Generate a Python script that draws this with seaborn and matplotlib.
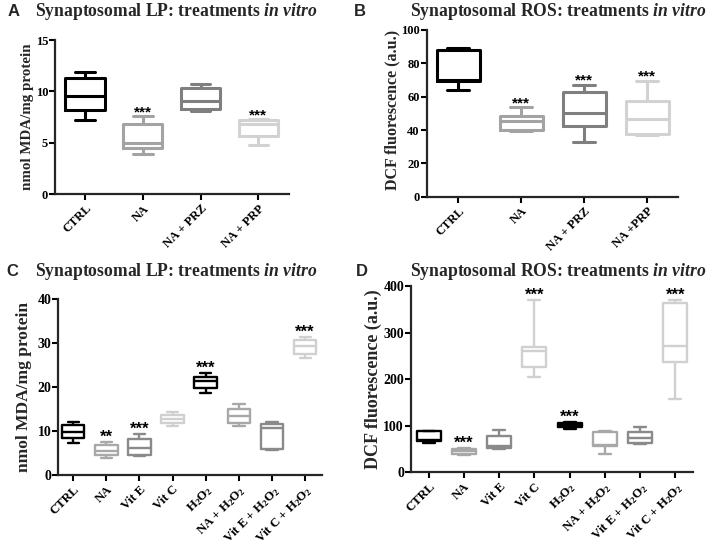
import numpy as np
import pandas as pd
import matplotlib
matplotlib.use("Agg")
import matplotlib.pyplot as plt
import seaborn as sns

sns.set_style("ticks")
plt.rcParams['font.family'] = ['Liberation Serif', 'DejaVu Serif']
plt.rcParams['font.weight'] = 'bold'
plt.rcParams['mathtext.fontset'] = 'custom'
plt.rcParams['mathtext.rm'] = 'Liberation Serif:bold'
plt.rcParams['mathtext.it'] = 'Liberation Serif:bold:italic'
plt.rcParams['mathtext.bf'] = 'Liberation Serif:bold'

# ---------------- data ----------------
# Panel A: Synaptosomal LP (nmol MDA/mg protein)
a_groups = ['CTRL', 'NA', 'NA + PRZ', 'NA + PRP']
a_min = [7.25, 3.95, 8.10, 4.80]
a_q1 = [8.20, 4.50, 8.25, 5.70]
a_med = [9.60, 5.00, 9.05, 6.80]
a_q3 = [11.30, 6.80, 10.30, 7.20]
a_max = [11.90, 7.60, 10.70, 7.35]
a_stars = ['', '***', '', '***']

# Panel B: Synaptosomal ROS (DCF fluorescence)
b_groups = ['CTRL', 'NA', 'NA + PRZ', 'NA +PRP']
b_min = [64.2, 39.2, 33.0, 36.8]
b_q1 = [69.2, 40.0, 42.2, 37.8]
b_med = [69.8, 45.2, 50.4, 46.6]
b_q3 = [88.0, 48.2, 62.8, 57.2]
b_max = [89.2, 53.6, 67.0, 69.6]
b_stars = ['', '***', '***', '***']

# Panel C: Synaptosomal LP, vitamins / H2O2
c_groups = ['CTRL', 'NA', 'Vit E', 'Vit C', 'H$_2$O$_2$', 'NA + H$_2$O$_2$',
            'Vit E + H$_2$O$_2$', 'Vit C + H$_2$O$_2$']
c_min = [7.3, 4.0, 4.4, 11.2, 18.7, 11.2, 5.7, 26.7]
c_q1 = [8.4, 4.6, 4.6, 11.8, 19.8, 11.9, 6.0, 27.6]
c_med = [9.9, 5.6, 6.2, 12.7, 21.4, 13.5, 10.7, 29.4]
c_q3 = [11.4, 6.9, 8.2, 13.8, 22.3, 15.0, 11.6, 30.8]
c_max = [12.1, 7.6, 9.4, 14.4, 23.3, 16.1, 12.0, 31.5]
c_stars = ['', '**', '***', '', '***', '', '', '***']

# Panel D: Synaptosomal ROS, vitamins / H2O2
d_groups = c_groups
d_min = [63, 37, 51, 204, 92, 39, 60, 157]
d_q1 = [68, 40, 52, 227, 97, 56, 62, 237]
d_med = [70, 45, 56, 261, 102, 59, 74, 272]
d_q3 = [88, 49, 79, 270, 106, 86, 86, 364]
d_max = [89, 53, 90, 370, 109, 88, 97, 371]
d_stars = ['', '***', '', '***', '***', '', '', '***']

ab_colors = ['#000000', '#a3a3a3', '#7f7f7f', '#d2d2d2']
cd_colors = ['#000000', '#a8a8a8', '#8a8a8a', '#d0d0d0',
             '#000000', '#a8a8a8', '#8a8a8a', '#d0d0d0']

W, H = 710, 546
fig = plt.figure(figsize=(W / 100, H / 100), dpi=100)


def add_ax(l, r, t, b):
    return fig.add_axes([l / W, 1 - b / H, (r - l) / W, (b - t) / H])


def panel(ax, groups, mins, q1s, meds, q3s, maxs, colors, stars, lw,
          ylim, yticks, xlim, tick_fs, xtick_fs, star_fs, star_off):
    rows = []
    for g, vals in zip(groups, zip(mins, q1s, meds, q3s, maxs)):
        for v in vals:
            rows.append((g, v))
    df = pd.DataFrame(rows, columns=['group', 'value'])
    sns.boxplot(data=df, x='group', y='value', hue='group', order=groups,
                hue_order=groups, palette=colors, fill=False, whis=(0, 100),
                width=0.68, linewidth=lw, legend=False, saturation=1,
                showfliers=False, ax=ax)
    ax.set_ylim(*ylim)
    ax.set_yticks(yticks)
    ax.set_xlim(*xlim)
    ax.set_xlabel('')
    ax.set_ylabel('')
    sns.despine(ax=ax)
    for s in ['left', 'bottom']:
        ax.spines[s].set_linewidth(1.6)
    ax.tick_params(axis='both', width=1.5, length=4, colors='black')
    ax.tick_params(axis='y', labelsize=tick_fs, pad=1)
    ax.tick_params(axis='x', labelsize=xtick_fs, pad=2)
    for lab in ax.get_yticklabels():
        lab.set_fontweight('bold')
    ax.set_xticks(range(len(groups)))
    ax.set_xticklabels(groups, rotation=45, ha='right', rotation_mode='anchor',
                       fontweight='bold', fontsize=xtick_fs)
    for i, s in enumerate(stars):
        if s:
            ax.annotate(s, (i, maxs[i]), xytext=(0, star_off),
                        textcoords='offset points', ha='center', va='bottom',
                        fontsize=star_fs, family='Liberation Sans',
                        color='black')


axA = add_ax(55, 289, 40, 194.3)
panel(axA, a_groups, a_min, a_q1, a_med, a_q3, a_max, ab_colors, a_stars, 2.2,
      (0, 15), [0, 5, 10, 15], (-0.52, 3.53), 9, 9, 11, -2.5)
axB = add_ax(426.7, 678, 30, 196.7)
panel(axB, b_groups, b_min, b_q1, b_med, b_q3, b_max, ab_colors, b_stars, 2.2,
      (0, 100), [0, 20, 40, 60, 80, 100], (-0.5, 3.49), 9, 9, 11, -2)
axC = add_ax(58.3, 321.7, 299.3, 475.2)
panel(axC, c_groups, c_min, c_q1, c_med, c_q3, c_max, cd_colors, c_stars, 1.7,
      (0, 40), [0, 10, 20, 30, 40], (-0.45, 7.5), 10, 9.2, 12, -2)
axD = add_ax(411, 693, 286, 472.3)
panel(axD, d_groups, d_min, d_q1, d_med, d_q3, d_max, cd_colors, d_stars, 1.7,
      (0, 400), [0, 100, 200, 300, 400], (-0.5, 7.5), 10, 9.2, 12, -2)


def ftext(x, y, s, **kw):
    fig.text(x / W, 1 - y / H, s, **kw)


# panel letters
for (x, y, s) in [(8, 12, 'A'), (354, 12, 'B'), (6, 272, 'C'), (356, 272, 'D')]:
    ftext(x, y, s, family='Liberation Sans', fontweight='bold', fontsize=12,
          va='center', ha='left')

lp_title = r'Synaptosomal LP: treatments $\it{in\ vitro}$'
ros_title = r'Synaptosomal ROS: treatments $\it{in\ vitro}$'
ftext(35, 12, lp_title, fontsize=12.7, fontweight='bold', va='center', ha='left')
ftext(410, 12, ros_title, fontsize=12.7, fontweight='bold', va='center', ha='left')
ftext(35, 272, lp_title, fontsize=12.7, fontweight='bold', va='center', ha='left')
ftext(410, 272, ros_title, fontsize=12.7, fontweight='bold', va='center', ha='left')

# y-axis labels
ftext(27, 117, 'nmol MDA/mg protein', rotation=90, fontsize=10.8, fontweight='bold',
      va='center', ha='center')
ftext(392, 110, 'DCF fluorescence (a.u.)', rotation=90, fontsize=11.5,
      fontweight='bold', va='center', ha='center')
ftext(24, 387, 'nmol MDA/mg protein', rotation=90, fontsize=12.5,
      fontweight='bold', va='center', ha='center')
ftext(373, 379, 'DCF fluorescence (a.u.)', rotation=90, fontsize=13,
      fontweight='bold', va='center', ha='center')

fig.savefig('out.png', dpi=100)
